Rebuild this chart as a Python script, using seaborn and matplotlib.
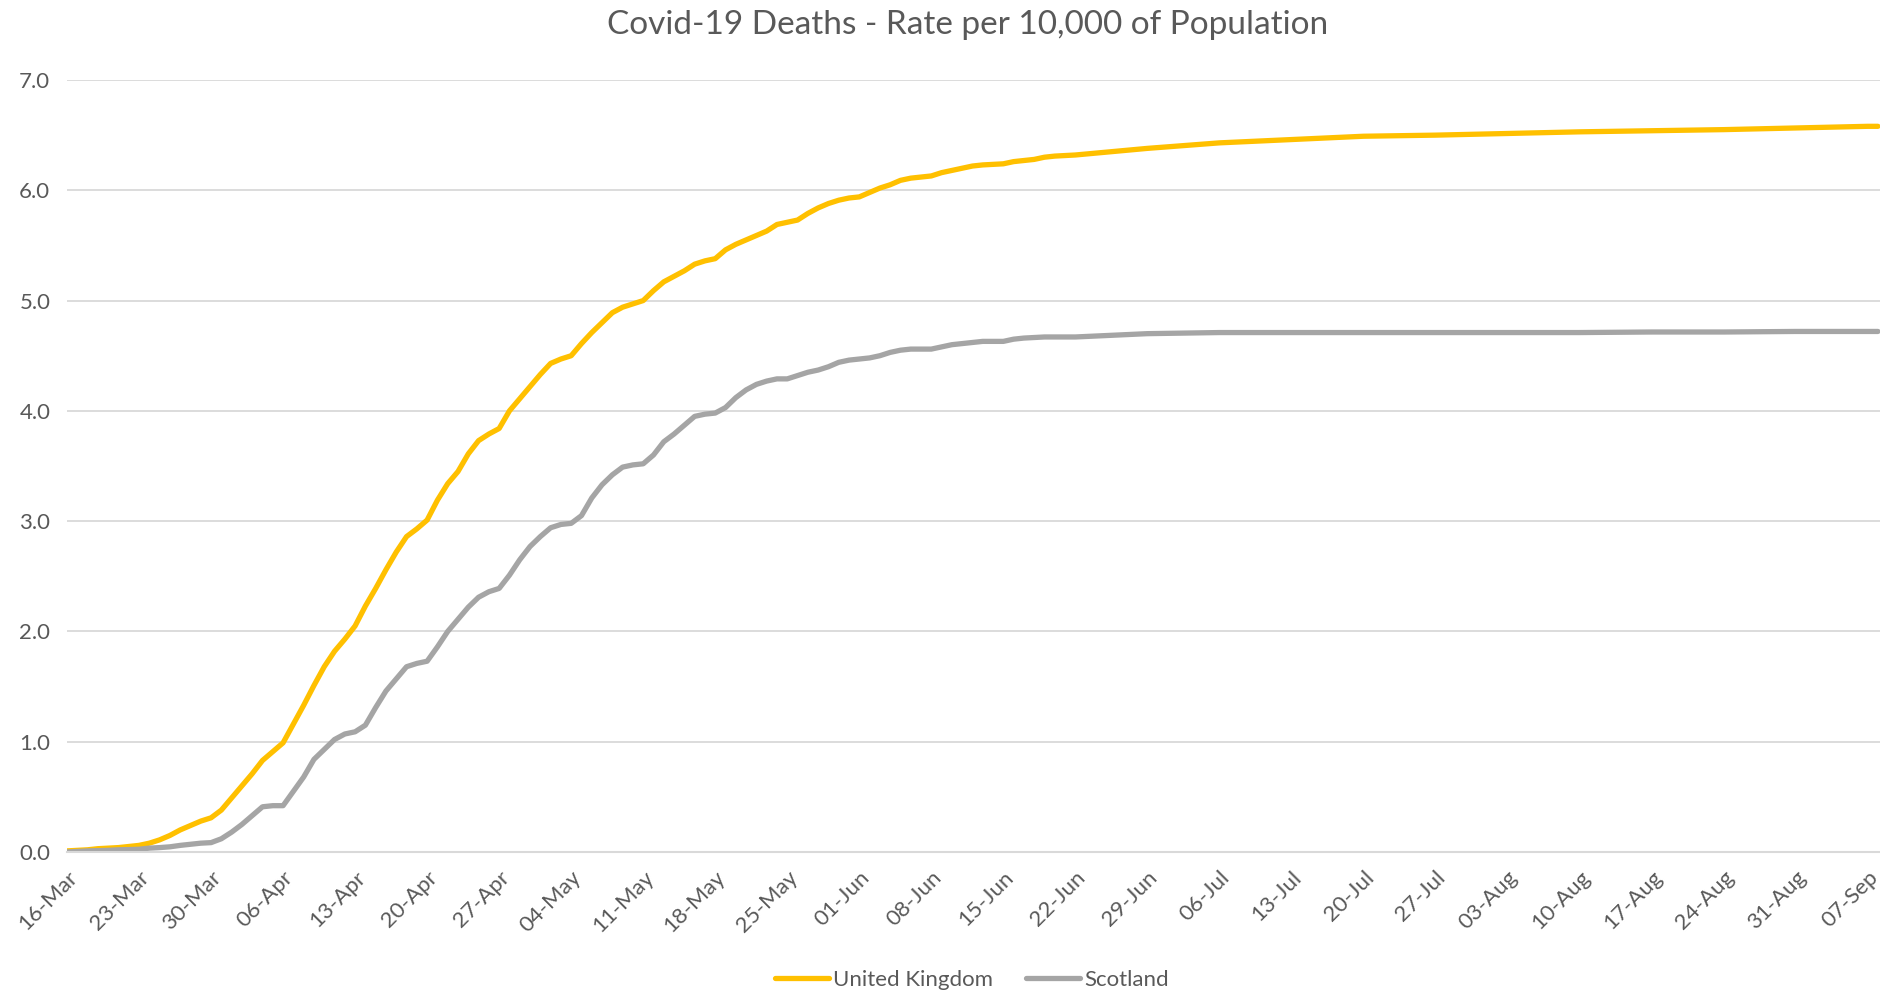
import matplotlib
matplotlib.use("Agg")
import matplotlib.pyplot as plt
import matplotlib.dates as mdates
import seaborn as sns
import pandas as pd

# Dates: daily from 16-Mar to 22-Jun, then weekly to 07-Sep (+ 08-Sep)
daily_dates = pd.date_range("2020-03-16", "2020-06-22", freq="D")
weekly_dates = pd.to_datetime(["2020-06-29", "2020-07-06", "2020-07-13", "2020-07-20",
                               "2020-07-27", "2020-08-03", "2020-08-10", "2020-08-17",
                               "2020-08-24", "2020-08-31", "2020-09-07", "2020-09-08"])
dates = daily_dates.append(weekly_dates)

uk = [0.01, 0.015, 0.02, 0.03, 0.035, 0.04, 0.05, 0.06, 0.08, 0.11,
      0.15, 0.20, 0.24, 0.28, 0.31, 0.38, 0.49, 0.60, 0.71, 0.83,
      0.91, 0.99, 1.16, 1.33, 1.51, 1.68, 1.82, 1.93, 2.05, 2.23,
      2.39, 2.56, 2.72, 2.86, 2.93, 3.01, 3.19, 3.34, 3.45, 3.61,
      3.73, 3.79, 3.84, 4.00, 4.11, 4.22, 4.33, 4.43, 4.47, 4.50,
      4.61, 4.71, 4.80, 4.89, 4.94, 4.97, 5.00, 5.09, 5.17, 5.22,
      5.27, 5.33, 5.36, 5.38, 5.46, 5.51, 5.55, 5.59, 5.63, 5.69,
      5.71, 5.73, 5.79, 5.84, 5.88, 5.91, 5.93, 5.94, 5.98, 6.02,
      6.05, 6.09, 6.11, 6.12, 6.13, 6.16, 6.18, 6.20, 6.22, 6.23,
      6.235, 6.24, 6.26, 6.27, 6.28, 6.30, 6.31, 6.315, 6.32,
      6.38, 6.43, 6.46, 6.49, 6.50, 6.515, 6.53, 6.54, 6.55, 6.565, 6.58, 6.58]

scotland = [0.00, 0.005, 0.01, 0.012, 0.015, 0.02, 0.022, 0.025, 0.035, 0.04,
            0.047, 0.06, 0.07, 0.08, 0.085, 0.12, 0.18, 0.25, 0.33, 0.41,
            0.42, 0.42, 0.55, 0.68, 0.84, 0.93, 1.02, 1.07, 1.09, 1.15,
            1.31, 1.46, 1.57, 1.68, 1.71, 1.73, 1.86, 2.00, 2.11, 2.22,
            2.31, 2.36, 2.39, 2.51, 2.65, 2.77, 2.86, 2.94, 2.97, 2.98,
            3.05, 3.21, 3.33, 3.42, 3.49, 3.51, 3.52, 3.60, 3.72, 3.79,
            3.87, 3.95, 3.97, 3.98, 4.03, 4.12, 4.19, 4.24, 4.27, 4.29,
            4.29, 4.32, 4.35, 4.37, 4.40, 4.44, 4.46, 4.47, 4.48, 4.50,
            4.53, 4.55, 4.56, 4.56, 4.56, 4.58, 4.60, 4.61, 4.62, 4.63,
            4.63, 4.63, 4.65, 4.66, 4.665, 4.67, 4.67, 4.67, 4.67,
            4.70, 4.71, 4.71, 4.71, 4.71, 4.71, 4.71, 4.715, 4.715, 4.72, 4.72, 4.72]

series_names = ["United Kingdom", "Scotland"]
colors = ["#FFC000", "#A5A5A5"]
y_ticks = [0, 1, 2, 3, 4, 5, 6, 7]

df = pd.concat([
    pd.DataFrame({"date": dates, "rate": uk, "area": series_names[0]}),
    pd.DataFrame({"date": dates, "rate": scotland, "area": series_names[1]}),
])

sns.set_theme(style="white")
plt.rcParams["font.family"] = ["Lato", "DejaVu Sans"]
txt = "#595959"

fig = plt.figure(figsize=(18.8, 9.93), dpi=100)
ax = fig.add_axes([67 / 1880, 1 - 852 / 993, 1 - 67 / 1880, (852 - 80) / 993])

sns.lineplot(data=df, x="date", y="rate", hue="area", hue_order=series_names,
             palette=colors, linewidth=3.8, ax=ax, legend=True)

ax.set_ylim(0, 7)
ax.set_yticks(y_ticks)
ax.set_yticklabels([f"{v:.1f}" for v in y_ticks])
start = pd.Timestamp("2020-03-16")
end = start + pd.Timedelta(days=176.2)
ax.set_xlim(start, end)
ax.set_xticks(pd.date_range("2020-03-16", "2020-09-07", freq="7D"))
ax.xaxis.set_major_formatter(mdates.DateFormatter("%d-%b"))

ax.grid(axis="y", color="#D9D9D9", linewidth=1.3)
ax.set_axisbelow(True)
for s in ["top", "right", "left"]:
    ax.spines[s].set_visible(False)
ax.spines["bottom"].set_color("#D9D9D9")
ax.spines["bottom"].set_linewidth(1.5)
ax.tick_params(axis="x", direction="out", length=5, width=1.3, color="#D9D9D9",
               labelsize=16, labelcolor=txt, pad=6)
ax.tick_params(axis="y", length=0, labelsize=16, labelcolor=txt, pad=12)
plt.setp(ax.get_xticklabels(), rotation=45, ha="right", rotation_mode="anchor")
ax.set_xlabel("")
ax.set_ylabel("")

handles, labels = ax.get_legend_handles_labels()
ax.get_legend().remove()
fig.legend(handles, labels, loc="center", bbox_to_anchor=(972 / 1880, 1 - 980 / 993),
           ncol=2, frameon=False, fontsize=16, labelcolor=txt, handlelength=2.4,
           handletextpad=0.2, columnspacing=1.5)

fig.text(968 / 1880, 1 - 25 / 993, "Covid-19 Deaths - Rate per 10,000 of Population",
         ha="center", va="center", fontsize=24, color=txt)

fig.savefig("out.png", dpi=100)
